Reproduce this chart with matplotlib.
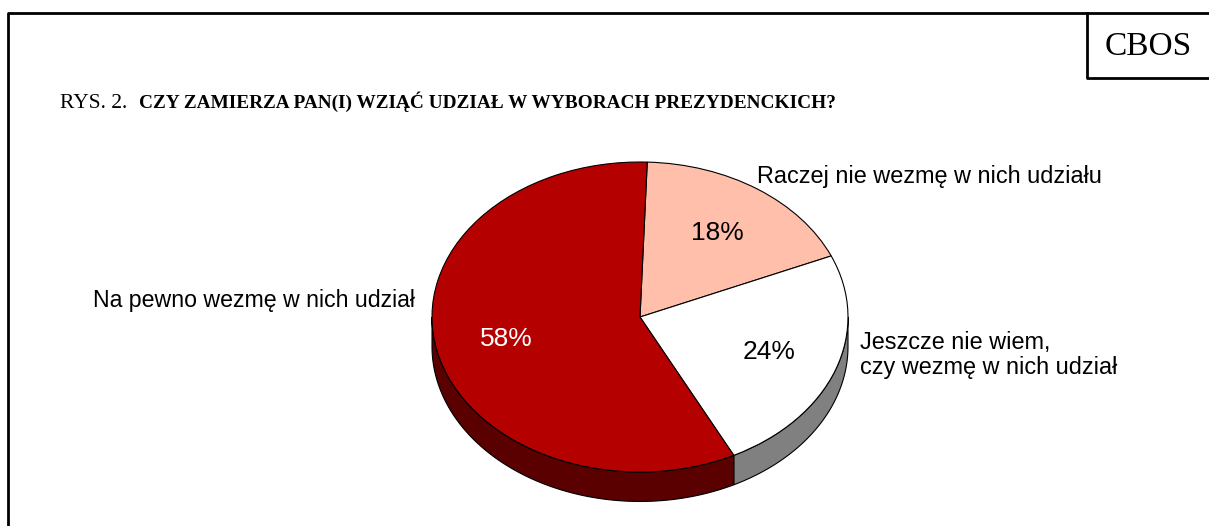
import matplotlib
matplotlib.use('Agg')
import matplotlib.pyplot as plt
import numpy as np

# data
labels = ['Raczej nie wezmę w nich udziału',
          'Jeszcze nie wiem,\nczy wezmę w nich udział',
          'Na pewno wezmę w nich udział']
values = [18, 24, 58]
top_colors = ['#FFBFAA', '#FFFFFF', '#B50000']
side_colors = ['#C08070', '#808080', '#5A0000']
start = 88

W, H = 1209, 526
fig = plt.figure(figsize=(W / 100, H / 100), dpi=100)

# page frame
bg = fig.add_axes([0, 0, 1, 1])
bg.set_xlim(0, W)
bg.set_ylim(H, 0)
bg.axis('off')
bg.plot([8, 8, W + 5], [H + 5, 13, 13], color='black', lw=2)
bg.plot([1087, 1087, W + 5], [13, 78, 78], color='black', lw=2)
bg.text(1148, 47, 'CBOS', family='Liberation Serif', fontsize=24,
        ha='center', va='center')
bg.text(60, 108, 'RYS. 2.', family='Liberation Serif', fontsize=15.5,
        ha='left', va='baseline')
bg.text(139, 108, 'CZY ZAMIERZA PAN(I) WZIĄĆ UDZIAŁ W WYBORACH PREZYDENCKICH?',
        family='Liberation Serif', fontsize=13.9, fontweight='bold',
        ha='left', va='baseline')

# pie axes: centre at (640, 317) px, radii 208 x 155 px
rx, ry = 208, 155
cx, cy = 640, 317
ylo, yhi = -1.4, 1.2
ax = fig.add_axes([(cx - 1.25 * rx) / W, (H - cy + ylo * ry) / H,
                   2.5 * rx / W, (yhi - ylo) * ry / H])

wedges, _, pcts = ax.pie(values, colors=top_colors, startangle=start,
                         counterclock=False, pctdistance=0.66,
                         autopct=lambda p: f'{p:.0f}%',
                         wedgeprops=dict(edgecolor='black', linewidth=0.8),
                         textprops=dict(family='Liberation Sans', fontsize=19))
pcts[2].set_color('white')
for w in wedges:
    w.set_zorder(3)

# 3D side wall (front half only)
depth = 0.19
a = start
for v, c in zip(values, side_colors):
    b = a - 360 * v / 100
    lo, hi = max(b, -180), min(a, 0)
    if hi > lo:
        t = np.radians(np.linspace(lo, hi, 100))
        xs = np.concatenate([np.cos(t), np.cos(t[::-1])])
        ys = np.concatenate([np.sin(t), np.sin(t[::-1]) - depth])
        ax.fill(xs, ys, facecolor=c, edgecolor='black', lw=0.8, zorder=1)
    a = b

ax.set_aspect('auto')
ax.set_xlim(-1.25, 1.25)
ax.set_ylim(ylo, yhi)
ax.axis('off')

# category labels
lab_kw = dict(family='Liberation Sans', fontsize=16.9)
fig.text(757 / W, 1 - 176 / H, labels[0], ha='left', va='center', **lab_kw)
fig.text(860 / W, 1 - 355 / H, labels[1], ha='left', va='center',
         linespacing=1.08, **lab_kw)
fig.text(415 / W, 1 - 301 / H, labels[2], ha='right', va='center',
         family='Liberation Sans', fontsize=16.7)

fig.savefig('out.png', dpi=100)
